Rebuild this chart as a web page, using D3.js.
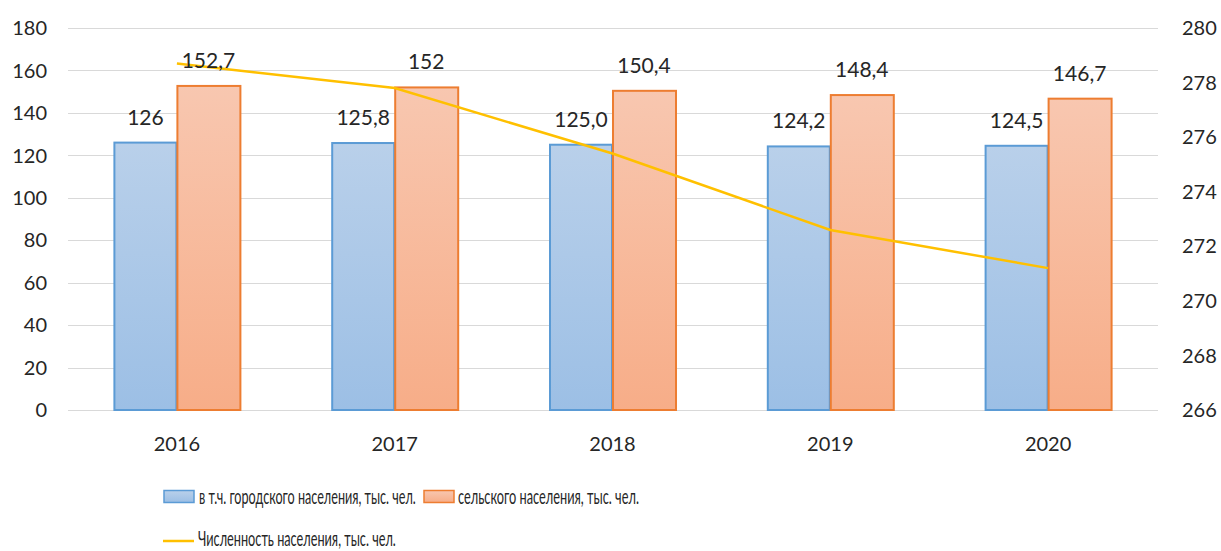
<!DOCTYPE html>
<html>
<head>
<meta charset="utf-8">
<script src="https://cdn.jsdelivr.net/npm/d3@7"></script>
<style>
  body { margin: 0; background: #fff; }
  svg { display: block; font-family: Lato, "Open Sans", sans-serif; }
  .grid line { stroke: #d9d9d9; stroke-width: 1; }
  .tick-label { fill: #262626; font-size: 20px; }
  .bar-label { fill: #262626; font-size: 21px; }
  .legend-text { fill: #262626; font-size: 22px; }
</style>
</head>
<body>
<svg id="chart" width="1221" height="551"></svg>
<script>
/* data */
const years = ["2016", "2017", "2018", "2019", "2020"];
const urban = [126, 125.8, 125.0, 124.2, 124.5];
const urbanLabels = ["126", "125,8", "125,0", "124,2", "124,5"];
const rural = [152.7, 152, 150.4, 148.4, 146.7];
const ruralLabels = ["152,7", "152", "150,4", "148,4", "146,7"];
const total = [278.7, 277.8, 275.4, 272.6, 271.2];
const leftTicks = [0, 20, 40, 60, 80, 100, 120, 140, 160, 180];
const rightTicks = [266, 268, 270, 272, 274, 276, 278, 280];

const seriesNames = [
    "в т.ч. городского населения, тыс. чел.",
    "сельского населения, тыс. чел.",
    "Численность населения, тыс. чел."
];

const svg = d3.select("#chart");
const plotLeft = 68, plotRight = 1157, plotTop = 28, plotBottom = 410;

const x = d3.scaleBand().domain(years).range([plotLeft, plotRight]);
const yL = d3.scaleLinear().domain([0, 180]).range([plotBottom, plotTop]);
const yR = d3.scaleLinear().domain([266, 280]).range([plotBottom, plotTop]);
const barW = 63;

// gradients
const defs = svg.append("defs");
const addGrad = (id, c1, c2) => {
    const g = defs.append("linearGradient").attr("id", id)
        .attr("x1", 0).attr("y1", 0).attr("x2", 0).attr("y2", 1);
    g.append("stop").attr("offset", "0%").attr("stop-color", c1);
    g.append("stop").attr("offset", "100%").attr("stop-color", c2);
};
addGrad("gBlue", "#b9d0ea", "#9cbfe5");
addGrad("gOrange", "#f8c7b0", "#f7ad88");

// Grid lines
svg.append("g").attr("class", "grid")
    .selectAll("line").data(leftTicks).join("line")
    .attr("x1", plotLeft).attr("x2", plotRight + 1)
    .attr("y1", d => Math.round(yL(d)) + 0.5)
    .attr("y2", d => Math.round(yL(d)) + 0.5);

// Left axis labels
svg.append("g").selectAll("text").data(leftTicks).join("text")
    .attr("class", "tick-label")
    .attr("x", 47).attr("y", d => yL(d))
    .attr("dy", "0.36em")
    .attr("text-anchor", "end")
    .text(d => d);

// Right axis labels
svg.append("g").selectAll("text").data(rightTicks).join("text")
    .attr("class", "tick-label")
    .attr("x", 1182).attr("y", d => yR(d))
    .attr("dy", "0.36em")
    .text(d => d);

// Category labels
svg.append("g").selectAll("text").data(years).join("text")
    .attr("class", "tick-label")
    .attr("x", d => x(d) + x.bandwidth() / 2)
    .attr("y", 451)
    .attr("text-anchor", "middle")
    .text(d => d);

// Bars
const center = d => x(d) + x.bandwidth() / 2;
svg.append("g").selectAll("rect").data(years).join("rect")
    .attr("x", d => center(d) - barW + 0.5)
    .attr("y", (d, i) => yL(urban[i]))
    .attr("width", barW - 1)
    .attr("height", (d, i) => yL(0) - yL(urban[i]))
    .attr("fill", "url(#gBlue)")
    .attr("stroke", "#5b9bd5")
    .attr("stroke-width", 2);

svg.append("g").selectAll("rect").data(years).join("rect")
    .attr("x", d => center(d) + 0.5)
    .attr("y", (d, i) => yL(rural[i]))
    .attr("width", barW)
    .attr("height", (d, i) => yL(0) - yL(rural[i]))
    .attr("fill", "url(#gOrange)")
    .attr("stroke", "#ed7d31")
    .attr("stroke-width", 2);

// Total line
const line = d3.line()
    .x((d, i) => center(years[i]))
    .y(d => yR(d));
svg.append("path")
    .datum(total)
    .attr("d", line)
    .attr("fill", "none")
    .attr("stroke", "#ffc000")
    .attr("stroke-width", 2.5);

// Bar labels
svg.append("g").selectAll("text").data(years).join("text")
    .attr("class", "bar-label")
    .attr("x", d => center(d) - barW / 2)
    .attr("y", (d, i) => yL(urban[i]) - 18)
    .attr("text-anchor", "middle")
    .text((d, i) => urbanLabels[i]);

svg.append("g").selectAll("text").data(years).join("text")
    .attr("class", "bar-label")
    .attr("x", d => center(d) + barW / 2)
    .attr("y", (d, i) => yL(rural[i]) - 18)
    .attr("text-anchor", "middle")
    .text((d, i) => ruralLabels[i]);

// Legend (text squeezed horizontally to the reference widths)
const lg = svg.append("g");
const legendText = (label, tx, ty, targetW) => {
    const t = lg.append("text").attr("class", "legend-text").text(label);
    const w = t.node().getComputedTextLength();
    t.attr("transform", `translate(${tx},${ty}) scale(${targetW / w},1)`);
};
lg.append("rect").attr("x", 164).attr("y", 490.5).attr("width", 30).attr("height", 12)
    .attr("fill", "url(#gBlue)").attr("stroke", "#5b9bd5").attr("stroke-width", 1.5);
legendText(seriesNames[0], 199, 504, 217);
lg.append("rect").attr("x", 424).attr("y", 490.5).attr("width", 30).attr("height", 12)
    .attr("fill", "url(#gOrange)").attr("stroke", "#ed7d31").attr("stroke-width", 1.5);
legendText(seriesNames[1], 458, 504, 181);
lg.append("line").attr("x1", 163).attr("x2", 194).attr("y1", 541).attr("y2", 541)
    .attr("stroke", "#ffc000").attr("stroke-width", 2.5);
legendText(seriesNames[2], 198, 546, 198);
</script>
</body>
</html>
